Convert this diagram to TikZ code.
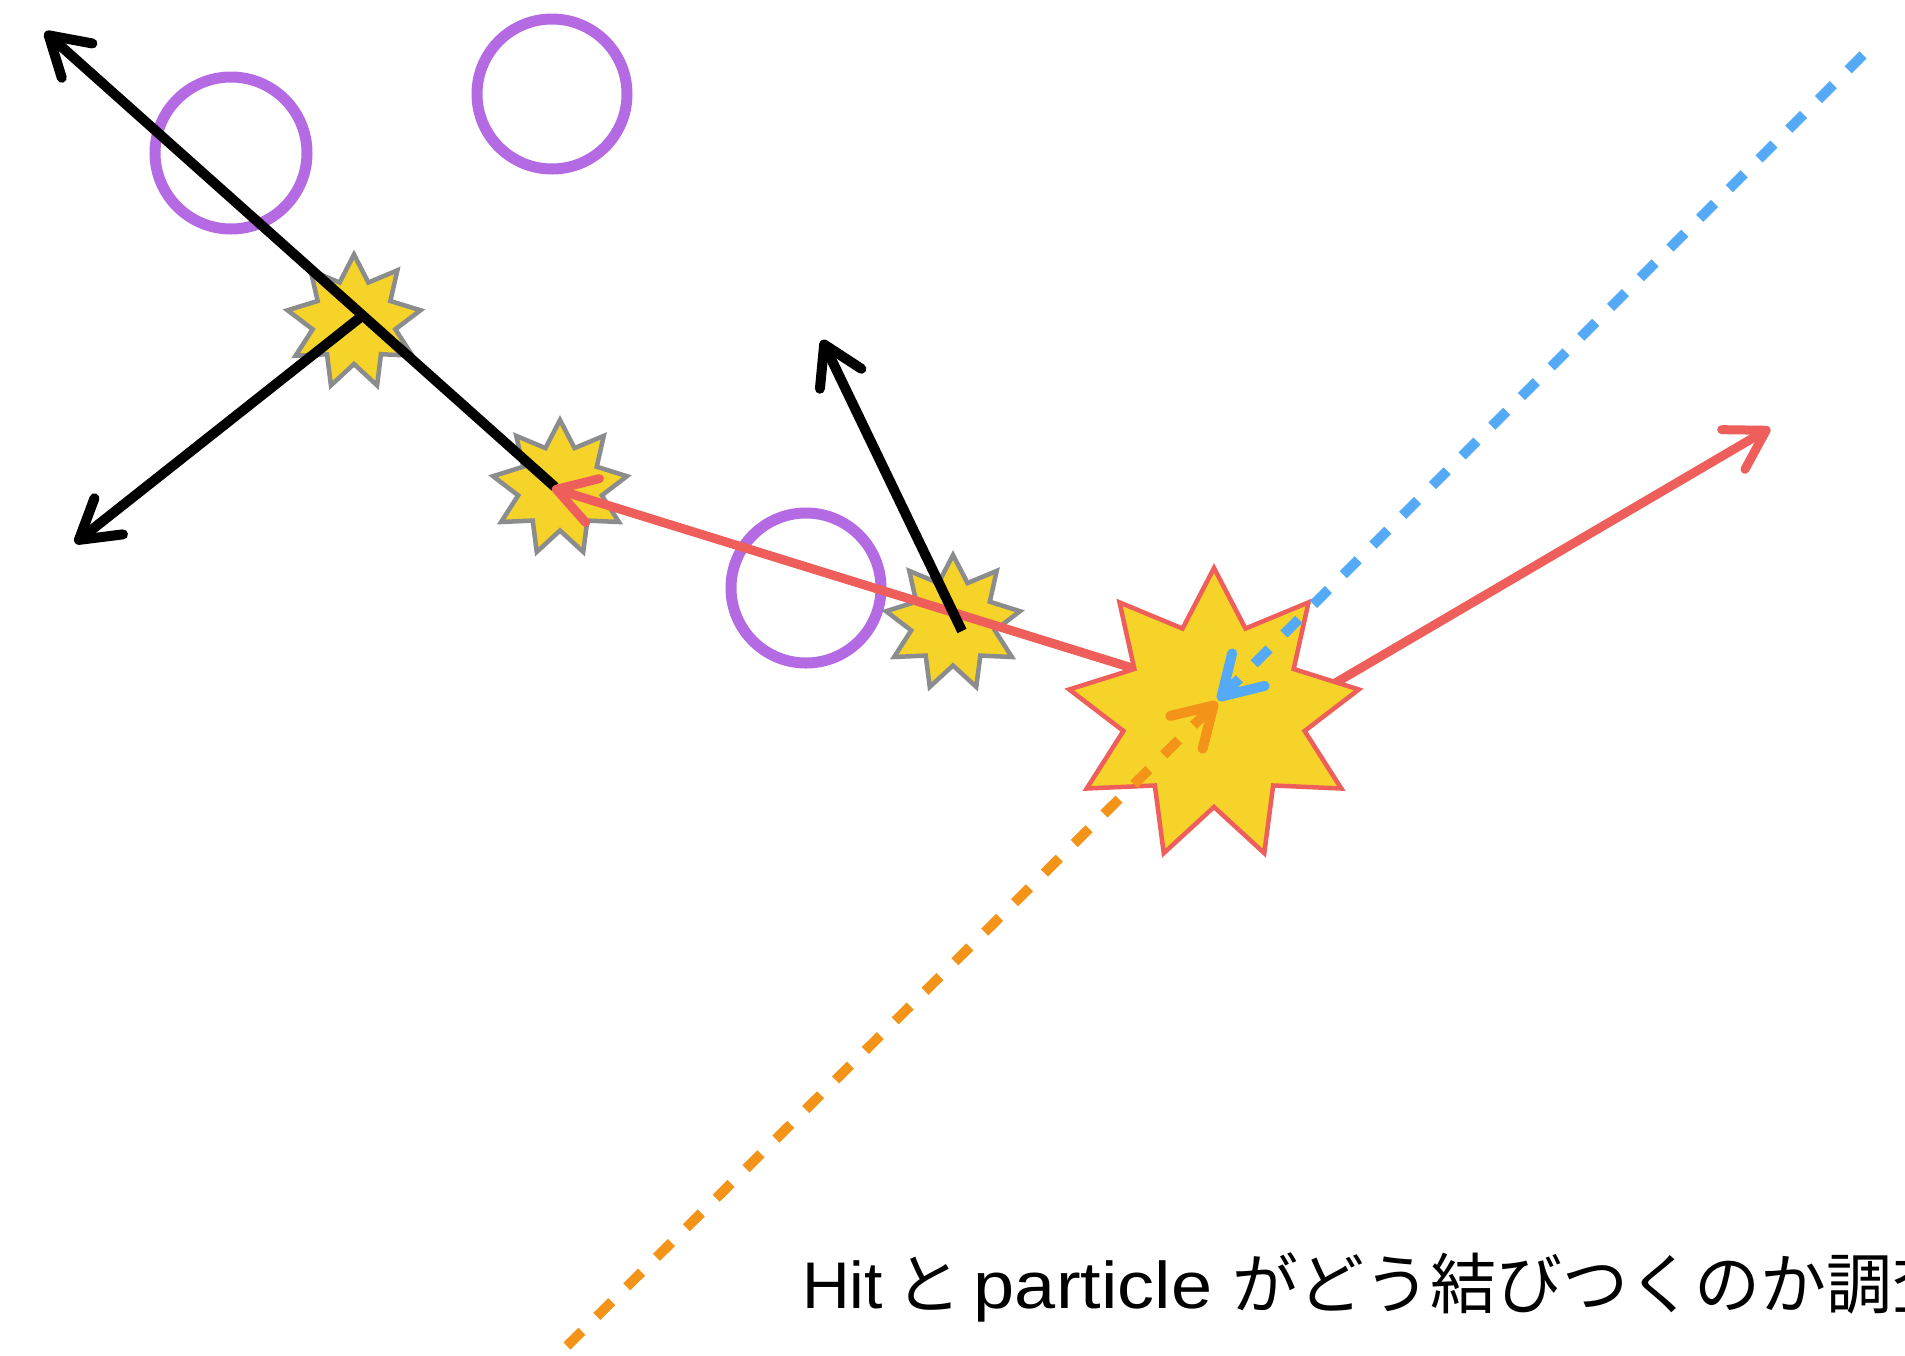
\documentclass[tikz,border=0pt]{standalone}
\usepackage{fontspec}
\setmainfont{Liberation Sans}
\newfontfamily\jpfont{Noto Sans CJK JP}
\newfontfamily\widefont[FakeStretch=1.12]{Liberation Sans}
\usetikzlibrary{arrows.meta,calc}
\definecolor{cred}{HTML}{EE5F5B}
\definecolor{cblue}{HTML}{55AAF8}
\definecolor{corange}{HTML}{F39419}
\definecolor{cpurple}{HTML}{B36AE2}
\definecolor{cyellow}{HTML}{F5D328}
\definecolor{cgray}{HTML}{8A8C8E}
\tikzset{
  barb/.style={-{Straight Barb[length=38pt,width=46pt,round]}},
  blackline/.style={draw=black,line width=10pt,barb},
  redline/.style={draw=cred,line width=9pt,barb},
  dotline/.style={line width=10pt,dash pattern=on 21pt off 21pt,barb},
  ring/.style={draw=cpurple,line width=11pt},
  smallstar/.style={fill=cyellow,draw=cgray,line width=4.5pt,line join=miter},
  bigstar/.style={fill=cyellow,draw=cred,line width=4.5pt,line join=miter},
}
% star: center x, center y, outer R, inner r, style
\newcommand\drawninestar[5]{%
  \draw[#5] ({#1},{#2-#3}) \foreach \k in {1,...,17}{
    -- ({#1+(mod(\k,2)==1 ? #4 : #3)*cos(-90+20*\k)},{#2+(mod(\k,2)==1 ? #4 : #3)*sin(-90+20*\k)})
  } -- cycle;}
\begin{document}
\begin{tikzpicture}[x=1pt,y=-1pt]
\useasboundingbox (0,0) rectangle (1905,1355);
\fill[white] (0,0) rectangle (1905,1355);
\clip (0,0) rectangle (1905,1355);
% coordinates
\coordinate (c1) at (231,153);
\coordinate (c2) at (552,94);
\coordinate (c3) at (806,588);
\coordinate (b1s) at (555,487);
\coordinate (b1e) at (45,32);
\coordinate (b2s) at (362,316);
\coordinate (b2e) at (75,543);
\coordinate (b3s) at (962,631);
\coordinate (b3e) at (822,340);
\coordinate (r1s) at (1200,689);
\coordinate (r1e) at (552,488);
\coordinate (r2s) at (1250,733);
\coordinate (r2e) at (1770,428);
\coordinate (bl1) at (1863,55);
\coordinate (bl2) at (1218,700);
\coordinate (or1) at (567,1346);
\coordinate (or2) at (1217,702);
% circles
\draw[ring] (c1) circle[radius=76];
\draw[ring] (c2) circle[radius=75];
\draw[ring] (c3) circle[radius=75];
% small stars
\drawninestar{354}{322}{67.5}{42}{smallstar}
\drawninestar{560}{488}{68}{42.5}{smallstar}
\drawninestar{953}{623}{68}{42.5}{smallstar}
% black lines 1 and 2
\draw[blackline] (b1s) -- (b1e);
\draw[blackline] (b2s) -- (b2e);
% red lines
\draw[redline] (r1s) -- (r1e);
\draw[redline] (r2s) -- (r2e);
% big star
\drawninestar{1214}{715}{147}{92}{bigstar}
% black line 3
\draw[blackline] (b3s) -- (b3e);
% dotted lines
\draw[dotline,draw=cblue] (bl1) -- (bl2);
\draw[dotline,draw=corange] (or1) -- (or2);
% label
\node[anchor=base west,inner sep=0pt,font=\fontsize{66}{70}\selectfont] (lbl) at (802,1308)
  {Hit\hspace{13pt}{\jpfont と}\hspace{12pt}{\widefont particle}\hspace{20pt}{\jpfont がどう結びつくのか調査}};
\end{tikzpicture}
\end{document}
